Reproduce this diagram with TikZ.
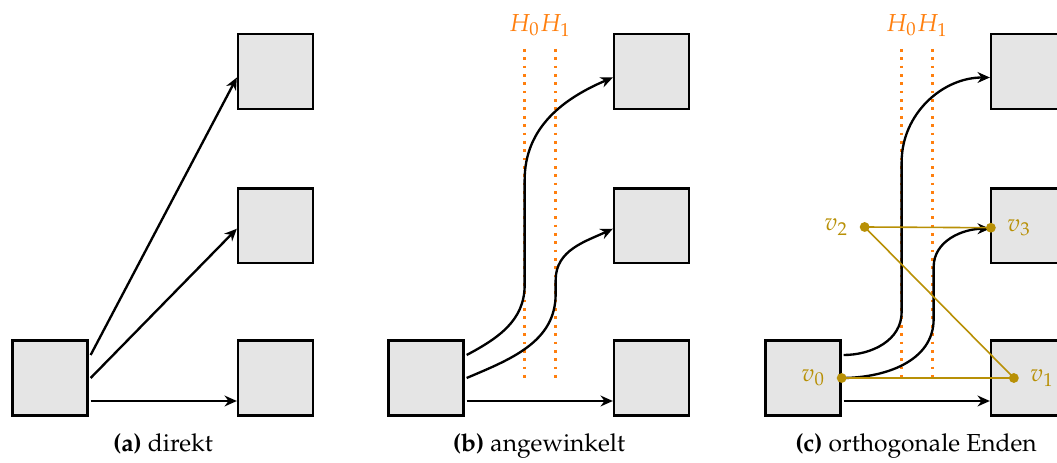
\documentclass[tikz,border=0pt]{standalone}
\usepackage[T1]{fontenc}
\usepackage{mathpazo}
\usepackage{xcolor}
\usepackage{tikz}
\usetikzlibrary{arrows.meta,positioning,calc}
\definecolor{boxgray}{RGB}{229,229,229}
\definecolor{lineorange}{RGB}{255,127,14}
\definecolor{vgold}{RGB}{184,144,6}

\begin{document}
\begin{tikzpicture}[x=0.0143cm,y=-0.0143cm,box/.style={draw,line width=1pt,fill=boxgray,minimum size=1.07cm,inner sep=0pt},arr/.style={->,>={Stealth[length=5pt,width=4.4pt,inset=1.6pt]},line width=0.95pt},hline/.style={draw=lineorange,line width=1.1pt,dash pattern=on 1.1pt off 2.3pt},hlabel/.style={text=lineorange,anchor=base},vpt/.style={circle,fill=vgold,inner sep=0pt,minimum size=4pt},vedge/.style={draw=vgold,line width=0.65pt},vlabel/.style={text=vgold,label distance=1pt}]
\useasboundingbox (0,0) rectangle (1057,463);
% the three variants: one source box, three targets, caption
\foreach \s/\p/\t in {0/a/direkt,376/b/angewinkelt,753/c/orthogonale Enden}{
\begin{scope}[shift={(\s,0)}]
\node[box](\p-src) at (50,378){}; \node[box](\p-t1) at (275.5,71.5){};
\node[box,below=1.1cm of \p-t1](\p-t2){}; \node[box](\p-t3) at (275.5,378){};
\node[anchor=base](\p-cap) at (163,452){\textbf{(\p)} \t};
\end{scope}
\coordinate (\p-s1) at ($(\p-src.east)+(2,-23)$); \coordinate (\p-s3) at ($(\p-src.east)+(2,23)$);
\coordinate (\p-s2) at ($(\p-src.east)+(2,0)$);
\coordinate (\p-e1) at ($(\p-t1.west)+(0,6)$); \coordinate (\p-e2) at ($(\p-t2.west)+(0,3)$);
\coordinate (\p-e3) at (\p-s3 -| \p-t3.west);
\draw[arr](\p-s3)--(\p-e3);
}
% guide lines H_0, H_1
\foreach \p in {b,c}{
\node[hlabel](\p-H0) at ($(\p-src)+(98.5,-346.5)$){$H_0$};
\node[hlabel](\p-H1) at ($(\p-src)+(129.5,-346.5)$){$H_1$};
\draw[hline]($(\p-src)+(98.5,-329)$)--($(\p-src)+(98.5,5)$);
\draw[hline]($(\p-src)+(129.5,-329)$)--($(\p-src)+(129.5,5)$);
}
% (a) straight
\draw[arr](a-s1)--(a-e1); \draw[arr](a-s2)--(a-e2);
% (b) angled ends
\draw[arr](b-s1) to[out=28,in=-90] ++(58,-70) -- ++(0,-105) to[out=90,in=-157] (b-e1);
\draw[arr](b-s2) to[out=23,in=-90] ++(89,-84) -- ++(0,-14) to[out=90,in=-155] (b-e2);
% (c) orthogonal ends
\coordinate (c-p0) at (c-src.east); \coordinate (c-p1) at ($(c-t3.west)+(24,0)$);
\coordinate (c-p2) at ($(c-src.east)+(23,-151)$); \coordinate (c-p3) at ($(c-t2.west)+(1,2)$);
\draw[arr](c-s1) to[out=0,in=-90] ++(58,-43) -- ++(0,-150) to[out=90,in=180] (c-e1);
\draw[arr](c-p0) to[out=0,in=-90] ++(92,-59) -- ++(0,-52) to[out=90,in=180] (c-e2);
\draw[vedge](c-p2)--(c-p3) (c-p2)--(c-p1) (c-p0)--(c-p1);
\node[vpt,label={[vlabel]left:$v_0$}](c-v0) at (c-p0){};
\node[vpt,label={[vlabel]right:$v_1$}](c-v1) at (c-p1){};
\node[vpt,label={[vlabel]left:$v_2$}](c-v2) at (c-p2){};
\node[vpt,label={[vlabel]right:$v_3$}](c-v3) at (c-p3){};
\end{tikzpicture}
\end{document}
